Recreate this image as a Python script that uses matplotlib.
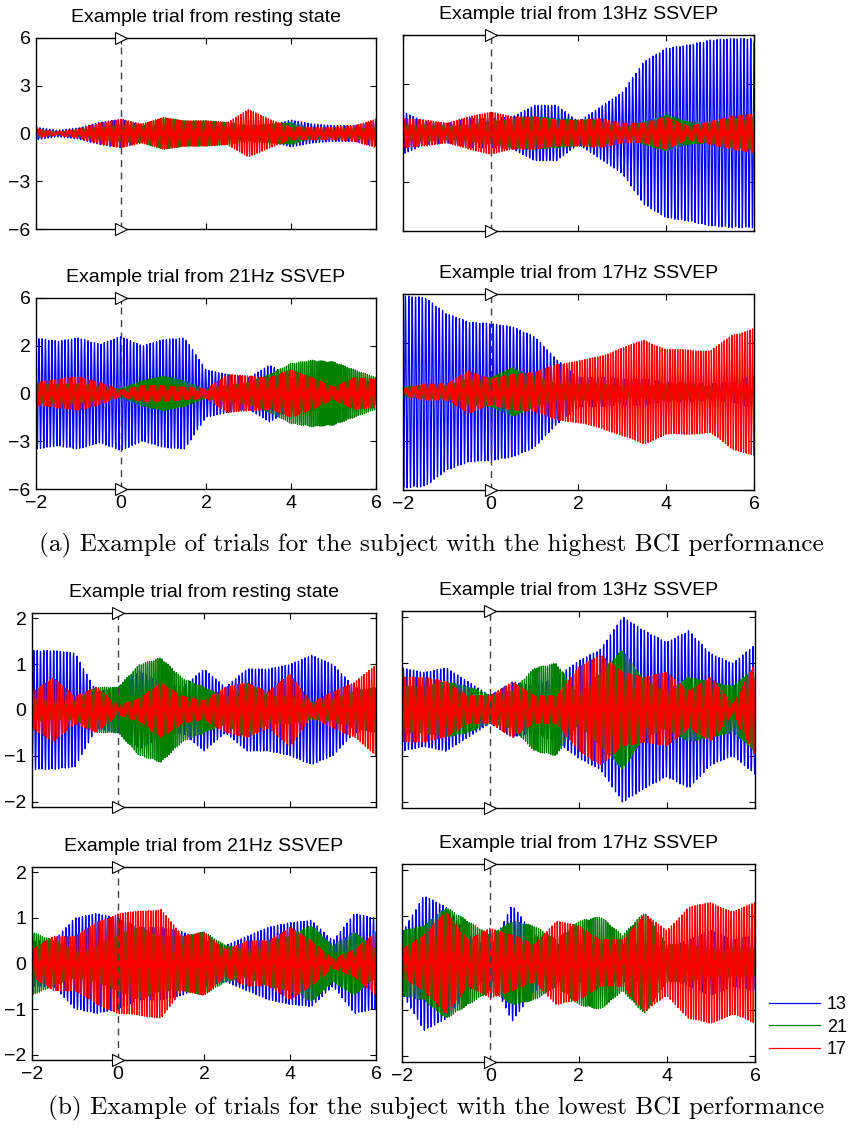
import numpy as np
import matplotlib
matplotlib.use('Agg')
import matplotlib.pyplot as plt

# envelope knots (seconds) shared by all traces
knot_t = [-2, -1.5, -1, -0.5, 0, 0.5, 1, 1.5, 2, 2.5, 3, 3.5, 4, 4.5, 5, 5.5, 6]

# stimulus frequencies of the three CCA components
freqs = [13, 21, 17]
labels = ['13', '21', '17']
colors = ['#0000ff', '#008000', '#ff0000']
phases = [0.3, 1.1, 2.0]

titles = ['Example trial from resting state', 'Example trial from 13Hz SSVEP',
          'Example trial from 21Hz SSVEP', 'Example trial from 17Hz SSVEP']

# (a) highest BCI performance - amplitude envelopes for 13 / 21 / 17
a_rest_13 = [0.4, 0.2, 0.35, 0.7, 0.9, 0.5, 0.4, 0.4, 0.4, 0.4, 0.4, 0.5, 0.85, 0.6, 0.5, 0.5, 0.8]
a_rest_21 = [0.2, 0.1, 0.2, 0.4, 0.5, 0.6, 1.0, 0.8, 0.8, 0.7, 0.5, 0.6, 0.7, 0.3, 0.3, 0.3, 0.4]
a_rest_17 = [0.3, 0.1, 0.3, 0.65, 0.9, 0.6, 1.0, 0.8, 0.8, 0.7, 1.5, 0.9, 0.4, 0.4, 0.4, 0.5, 0.9]

a_13hz_13 = [1.3, 0.7, 0.6, 0.9, 0.9, 1.0, 1.7, 1.7, 0.7, 1.6, 2.5, 4.4, 5.2, 5.4, 5.7, 5.8, 5.8]
a_13hz_21 = [0.5, 0.5, 0.4, 0.5, 0.7, 0.9, 1.0, 0.9, 0.8, 0.8, 0.25, 0.7, 1.1, 0.7, 0.6, 0.9, 1.0]
a_13hz_17 = [0.9, 0.8, 0.6, 1.0, 1.3, 1.0, 1.0, 0.8, 0.8, 0.9, 0.6, 0.6, 1.0, 0.4, 0.7, 1.0, 1.2]

a_21hz_13 = [3.5, 3.3, 3.5, 3.1, 3.6, 3.0, 3.4, 3.5, 1.5, 1.2, 1.0, 1.8, 1.0, 1.0, 1.0, 0.8, 0.7]
a_21hz_21 = [0.6, 0.6, 0.6, 0.4, 0.3, 0.8, 1.1, 0.8, 0.3, 0.5, 0.7, 1.2, 1.9, 2.1, 2.0, 1.5, 1.0]
a_21hz_17 = [0.7, 0.9, 1.05, 0.7, 0.2, 0.5, 0.5, 0.4, 0.3, 1.2, 1.1, 1.0, 1.5, 1.0, 0.4, 1.0, 0.9]

a_17hz_13 = [5.9, 5.8, 4.8, 4.3, 4.2, 4.0, 3.4, 2.0, 0.9, 0.9, 0.8, 0.8, 0.6, 0.6, 0.5, 0.6, 1.0]
a_17hz_21 = [0.3, 0.4, 0.4, 0.8, 0.9, 1.5, 0.9, 0.5, 0.5, 0.5, 0.3, 0.3, 0.5, 0.5, 0.3, 0.2, 0.2]
a_17hz_17 = [0.2, 0.5, 0.5, 1.3, 0.8, 1.1, 1.2, 1.7, 1.9, 2.2, 2.7, 3.2, 2.6, 2.6, 2.5, 3.5, 3.9]

# (b) lowest BCI performance
b_rest_13 = [1.3, 1.3, 1.25, 0.4, 0.5, 0.85, 0.6, 0.5, 0.9, 0.5, 0.9, 0.9, 1.0, 1.2, 1.0, 0.5, 0.4]
b_rest_21 = [0.25, 0.2, 0.2, 0.5, 0.5, 1.0, 1.15, 0.7, 0.5, 0.3, 0.6, 0.3, 0.3, 0.2, 0.25, 0.4, 0.5]
b_rest_17 = [0.4, 0.7, 0.3, 0.5, 0.1, 0.25, 0.6, 0.3, 0.2, 0.5, 0.6, 0.4, 0.8, 0.15, 0.4, 0.6, 1.0]

b_13hz_13 = [0.9, 0.8, 0.9, 0.6, 0.3, 0.6, 0.5, 0.7, 1.05, 1.3, 2.0, 1.7, 1.45, 1.7, 1.2, 1.0, 1.4]
b_13hz_21 = [0.5, 0.5, 0.6, 0.5, 0.3, 0.4, 0.9, 1.0, 0.3, 0.8, 1.3, 0.6, 0.4, 0.7, 0.6, 0.5, 0.9]
b_13hz_17 = [0.7, 0.7, 0.6, 0.3, 0.3, 0.6, 0.3, 0.3, 0.9, 1.2, 0.8, 0.7, 0.8, 0.4, 0.7, 0.1, 1.0]

b_21hz_13 = [0.5, 0.5, 1.0, 1.1, 1.0, 0.8, 0.8, 0.7, 0.5, 0.4, 0.6, 0.8, 0.9, 0.95, 0.5, 1.1, 1.0]
b_21hz_21 = [0.7, 0.5, 0.3, 0.4, 0.6, 0.8, 0.6, 0.6, 0.7, 0.4, 0.3, 0.5, 0.6, 0.85, 0.4, 0.7, 0.3]
b_21hz_17 = [0.3, 0.6, 0.6, 0.9, 1.1, 1.15, 1.2, 0.6, 0.7, 0.3, 0.5, 0.5, 0.8, 0.5, 0.1, 0.3, 0.7]

b_17hz_13 = [0.65, 1.45, 1.2, 0.6, 0.3, 1.25, 0.6, 0.4, 0.4, 0.4, 0.4, 0.4, 0.3, 0.5, 0.7, 0.5, 0.6]
b_17hz_21 = [0.7, 0.8, 1.2, 0.9, 0.6, 0.9, 0.8, 0.5, 0.9, 1.0, 0.6, 1.1, 0.4, 0.4, 0.3, 0.3, 0.3]
b_17hz_17 = [0.3, 0.6, 1.1, 0.5, 0.75, 0.6, 0.4, 0.9, 0.8, 0.5, 0.5, 1.05, 0.7, 1.2, 1.3, 1.1, 1.3]

panels = [
    (a_rest_13, a_rest_21, a_rest_17),
    (a_13hz_13, a_13hz_21, a_13hz_17),
    (a_21hz_13, a_21hz_21, a_21hz_17),
    (a_17hz_13, a_17hz_21, a_17hz_17),
    (b_rest_13, b_rest_21, b_rest_17),
    (b_13hz_13, b_13hz_21, b_13hz_17),
    (b_21hz_13, b_21hz_21, b_21hz_17),
    (b_17hz_13, b_17hz_21, b_17hz_17),
]

# layout in pixels: left, top, right, bottom
W, H = 853, 1133
boxes = [
    (36, 38, 376, 229), (403, 35, 754, 231),
    (36, 298, 376, 489), (403, 294, 754, 490),
    (32, 613, 376, 807), (402, 611, 755, 808),
    (32, 867, 376, 1060), (402, 864, 755, 1062),
]

plt.rcParams['font.family'] = ['Liberation Sans', 'DejaVu Sans']

fs = 256
t = np.arange(-2, 6 + 1 / fs, 1 / fs)

fig = plt.figure(figsize=(W / 100, H / 100), dpi=100)
lines = []
for i, (env_set, box) in enumerate(zip(panels, boxes)):
    l, tp, r, b = box
    ax = fig.add_axes([l / W, 1 - b / H, (r - l) / W, (b - tp) / H])
    lines = []
    for env, f, c, ph, lab in zip(env_set, freqs, colors, phases, labels):
        amp = np.interp(t, knot_t, env)
        sig = amp * np.sin(2 * np.pi * f * t + ph + i)
        ln, = ax.plot(t, sig, color=c, lw=0.9, label=lab)
        lines.append(ln)

    if i < 4:
        ylim = (-6, 6)
        ax.set_yticks([-6, -3, 0, 3, 6])
        if i == 2:
            ax.set_yticklabels(['\u22126', '\u22123', '0', '2', '6'])
        else:
            ax.set_yticklabels(['\u22126', '\u22123', '0', '3', '6'])
    else:
        ylim = (-2.12, 2.12)
        ax.set_yticks([-2, -1, 0, 1, 2])
    ax.set_ylim(ylim)
    ax.set_xlim(-2, 6)
    ax.set_xticks([-2, 0, 2, 4, 6])

    # stimulus onset marker
    ax.plot([0, 0], ylim, ls=(0, (5, 4)), color='0.25', lw=1, zorder=5)
    ax.plot([0, 0], ylim, ls='none', marker='>', ms=8, mfc='white', mec='k',
            mew=0.8, clip_on=False, zorder=6)

    ax.tick_params(direction='in', top=True, right=True, length=4, width=0.8,
                   labelsize=14, pad=4)
    if i % 2 == 1:
        ax.tick_params(labelleft=False)
    if i not in (2, 3, 6, 7):
        ax.tick_params(labelbottom=False)
    for s in ax.spines.values():
        s.set_linewidth(1.0)
    ax.set_title(titles[i % 4], fontsize=14, pad=11.5)

fig.legend(lines, labels, loc='center left', bbox_to_anchor=(769 / W, 1 - 1027 / H),
           frameon=False, handlelength=2.85, fontsize=13, labelspacing=0.3,
           handletextpad=0.35, borderaxespad=0, borderpad=0)

fig.text(431 / W, 1 - 545 / H,
         '(a) Example of trials for the subject with the highest BCI performance',
         ha='center', va='center', family='cmr10', fontsize=18.2)
fig.text(436 / W, 1 - 1108 / H,
         '(b) Example of trials for the subject with the lowest BCI performance',
         ha='center', va='center', family='cmr10', fontsize=18.2)

fig.savefig('out.png', dpi=100)
